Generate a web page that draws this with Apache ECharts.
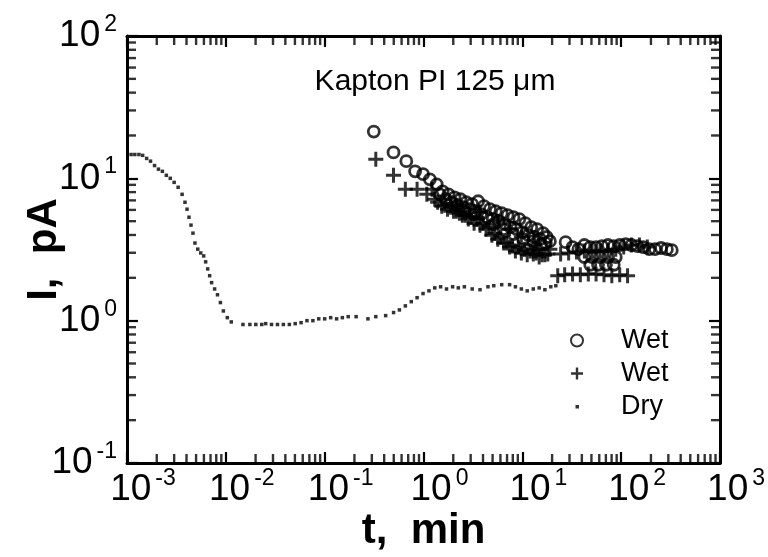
<!DOCTYPE html>
<html>
<head>
<meta charset="utf-8">
<script src="https://cdn.jsdelivr.net/npm/echarts@6/dist/echarts.min.js"></script>
<style>html,body{margin:0;padding:0;background:#fff}#c{width:768px;height:557px}</style>
</head>
<body>
<div id="c"></div>
<script>
// ---------- data (t in min, I in pA) ----------
const dryPoints = [
  [1.10e-3,14.7],[1.20e-3,14.7],[1.32e-3,14.7],[1.44e-3,14.5],[1.58e-3,13.8],[1.73e-3,13.2],[1.90e-3,12.3],
  [2.08e-3,11.6],[2.28e-3,11.2],[2.50e-3,10.5],[2.74e-3,10.0],[3.00e-3,9.37],[3.29e-3,8.65],[3.61e-3,7.72],
  [3.86e-3,6.79],[4.05e-3,6.07],[4.24e-3,5.33],[4.44e-3,4.69],[4.65e-3,4.12],[4.87e-3,3.51],[5.20e-3,3.18],
  [5.57e-3,2.99],[5.97e-3,2.85],[6.25e-3,2.59],[6.55e-3,2.31],[6.86e-3,2.07],[7.18e-3,1.85],[7.70e-3,1.67],
  [8.23e-3,1.52],[8.81e-3,1.34],[9.44e-3,1.17],[1.035e-2,1.05],[1.135e-2,0.98],
  [0.0149,0.94],[0.0175,0.94],[0.0201,0.94],[0.0231,0.94],[0.0253,0.953],[0.0290,0.94],[0.0333,0.94],
  [0.0382,0.94],[0.0439,0.94],[0.0503,0.953],[0.0577,0.968],[0.0662,1.0],[0.0760,1.0],[0.0871,1.03],
  [0.100,1.03],[0.115,1.05],[0.132,1.03],[0.151,1.05],[0.173,1.067],[0.208,1.067],[0.274,1.03],[0.329,1.067],
  [0.414,1.085],[0.498,1.14],[0.570,1.19],[0.655,1.27],[0.752,1.36],[0.861,1.45],[0.989,1.55],[1.135,1.62],
  [1.30,1.70],[1.49,1.73],[1.71,1.67],[1.97,1.73],[2.25,1.70],[2.59,1.73],[3.11,1.67],[3.73,1.65],
  [4.49,1.73],[5.14,1.76],[6.18,1.79],[7.43,1.79],[8.51,1.73],[9.77,1.67],[11.2,1.62],[12.9,1.67],
  [14.8,1.70],[16.9,1.65],[19.4,1.73],[21.8,1.76]
];
const wetCirclePoints = [
  [0.314,21.3],[0.497,15.2],[0.670,13.2],[0.822,11.2],[0.989,10.7],[1.16,9.84],[1.36,9.08],[1.56,8.11],
  [1.79,7.72],[2.06,7.36],[2.36,7.13],[2.71,6.79],[3.1,6.58],[3.57,6.90],[4.09,6.37],[4.70,6.07],
  [5.38,5.87],[6.18,5.69],[7.09,5.51],[8.13,5.33],[9.33,5.17],[10.7,4.84],[12.3,4.54],[14.1,4.40],
  [16.2,4.12],[17.7,3.87],[19.0,3.62],
  [2.59,5.87],[3.25,5.60],[5.14,4.77],[6.47,4.40],[8.13,4.06],[10.2,3.74],[12.9,3.62],[15.5,3.45],
  [1.46,7.72],[1.67,7.13],[1.92,6.79],[2.20,6.47],[2.53,6.27],[2.90,6.07],[3.33,5.87],[3.82,5.60],
  [4.39,5.33],[5.02,5.17],[5.77,5.0],[6.62,4.77],[7.60,4.54],[8.71,4.40],[10.0,4.19],[11.5,3.99],
  [13.2,3.87],[15.1,3.74],[17.3,3.51],
  [27.4,3.56],[32.2,3.29],[36.9,3.18],[42.4,3.40],[48.6,3.29],[55.7,3.29],[63.9,3.34],[73.5,3.40],
  [84.1,3.34],[96.6,3.40],[111,3.45],[127,3.40],[146,3.34],[167,3.29],[192,3.18],[220,3.18],
  [253,3.24],[290,3.18],[325,3.13],
  [42.4,2.80],[50.8,2.80],[61.1,2.80],[73.5,2.80],[88.1,2.80],[48.6,2.47],[58.3,2.47],[70.1,2.47],[84.1,2.47]
];
const wetPlusPoints = [
  [0.329,13.6],[0.497,10.5],[0.655,8.38],[0.861,8.38],[1.08,7.72],[1.22,8.38],[1.30,7.13],[1.53,6.37],
  [1.75,6.07],[2.01,5.87],[2.15,6.47],[2.31,5.69],[2.65,5.51],[3.04,5.33],[3.48,5.17],[3.73,5.78],
  [4.0,4.84],[4.59,4.54],[5.26,4.12],[5.64,5.0],[6.04,3.87],[6.93,3.51],[7.43,4.40],[7.95,3.34],
  [9.12,3.29],[9.77,3.87],[10.5,3.18],[12.0,3.09],[12.9,3.40],[13.8,2.99],[14.8,3.18],[15.8,2.90],
  [18.1,2.94],[19.0,3.18],
  [1.39,6.79],[1.64,6.47],[1.88,6.27],[2.15,5.87],[2.47,5.51],[2.84,5.17],[3.25,4.84],[3.73,4.69],
  [4.29,4.40],[4.92,3.99],[5.64,3.74],[6.47,3.51],[7.43,3.29],[8.51,3.09],[9.77,2.99],[11.2,2.90],
  [12.9,2.94],[14.8,2.80],[16.9,2.90],
  [24.4,2.94],[29.4,2.99],[35.3,3.04],[42.4,3.09],[50.8,3.09],[61.1,3.09],[73.5,3.09],[88.1,3.18],
  [106,3.29],[127,3.40],[153,3.40],[184,3.29],
  [22.8,2.07],[26.8,2.10],[32.2,2.13],[38.6,2.10],[46.5,2.13],[55.7,2.13],[67.0,2.10],[80.4,2.07],
  [96.6,2.10],[116,2.07]
];
const xTickExponents = ['-3','-2','-1','0','1','2','3'];
const yTickExponents = ['-1','0','1','2'];
const titleText = 'Kapton PI 125 μm';
const xName = 't,  min';
const yName = 'I,  pA';
const legendNames = ['Wet', 'Wet', 'Dry'];

// ---------- axis decoration: minor ticks at 2..9 × 10^k ----------
const X_MIN = 1e-3, X_MAX = 1e3, Y_MIN = 0.1, Y_MAX = 100;
const xMinorBottom = [], xMinorTop = [], yMinorLeft = [], yMinorRight = [];
for (let k = -3; k < 3; k++) for (let m = 2; m <= 9; m++) {
  const v = +(m * Math.pow(10, k)).toPrecision(3);
  xMinorBottom.push([v, Y_MIN]); xMinorTop.push([v, Y_MAX]);
}
for (let k = -1; k < 2; k++) for (let m = 2; m <= 9; m++) {
  const v = +(m * Math.pow(10, k)).toPrecision(3);
  yMinorLeft.push([X_MIN, v]); yMinorRight.push([X_MAX, v]);
}

const FONT = "'Liberation Sans', Arial, Helvetica, sans-serif";
const expOf = v => Math.round(Math.log10(v));
function fmtX(v) { const e = expOf(v); return '{b|10}{s|' + xTickExponents[e + 3] + '}'; }
function fmtY(v) { const e = expOf(v); return '{b|10}{s|' + yTickExponents[e + 1] + '}'; }
const rich = {
  b: { fontSize: 37, fontFamily: FONT, color: '#000', lineHeight: 46 },
  s: { fontSize: 23, fontFamily: FONT, color: '#000', verticalAlign: 'top', lineHeight: 23, padding: [0, 0, 0, 4] }
};
const plusPath = 'path://M-0.2,-1 L0.2,-1 L0.2,-0.2 L1,-0.2 L1,0.2 L0.2,0.2 L0.2,1 L-0.2,1 L-0.2,0.2 L-1,0.2 L-1,-0.2 L-0.2,-0.2 Z';
const dotIcon = 'image://data:image/svg+xml;charset=utf-8,' + encodeURIComponent('<svg xmlns="http://www.w3.org/2000/svg" width="12" height="12"><rect x="4.5" y="4.5" width="3.5" height="3.5" fill="#000"/></svg>');

const lineStyle = { color: '#000', width: 3 };
const nameStyle = { fontSize: 42, fontWeight: 'bold', fontFamily: FONT, color: '#000' };
function xAxisDef(pos, labels) {
  return {
    type: 'log', logBase: 10, min: X_MIN, max: X_MAX, position: pos, splitNumber: 6,
    axisLine: { show: true, onZero: false, lineStyle },
    axisTick: { show: true, inside: true, length: 11, lineStyle: { color: '#000', width: 2.2 } },
    splitLine: { show: false },
    axisLabel: labels ? { show: true, formatter: fmtX, rich, margin: 4, padding: [0, 0, 0, 32] } : { show: false },
    name: labels ? xName : '', nameLocation: 'middle', nameGap: 47, nameMoveOverlap: false,
    nameTextStyle: nameStyle
  };
}
function yAxisDef(pos, labels) {
  return {
    type: 'log', logBase: 10, min: Y_MIN, max: Y_MAX, position: pos, splitNumber: 3,
    axisLine: { show: true, onZero: false, lineStyle },
    axisTick: { show: true, inside: true, length: 11, lineStyle: { color: '#000', width: 2.2 } },
    splitLine: { show: false },
    axisLabel: labels ? { show: true, formatter: fmtY, rich, margin: 10 } : { show: false },
    name: labels ? yName : '', nameLocation: 'middle', nameGap: 62, nameRotate: 90, nameMoveOverlap: false,
    nameTextStyle: nameStyle
  };
}
// minor-tick marks: small bars anchored on the axis line, pointing inward
function tickSeries(data, size, offset) {
  return {
    type: 'scatter', data, symbol: 'rect', symbolSize: size, symbolOffset: offset,
    itemStyle: { color: '#000' }, clip: false, z: 5
  };
}

const chart = echarts.init(document.getElementById('c'), null, { renderer: 'canvas' });
chart.setOption({
  backgroundColor: '#fff',
  animation: false,
  title: {
    text: titleText, left: 430, top: 62, textAlign: 'center',
    textStyle: { fontSize: 30, fontWeight: 'normal', fontFamily: FONT, color: '#000' }
  },
  grid: { left: 127, right: 38, top: 36, bottom: 92, containLabel: false },
  xAxis: [xAxisDef('bottom', true), xAxisDef('top', false)],
  yAxis: [yAxisDef('left', true), yAxisDef('right', false)],
  legend: {
    orient: 'vertical', left: 533, top: 322, itemWidth: 78, itemHeight: 12, itemGap: 6,
    symbolKeepAspect: true, selectedMode: false,
    formatter: n => n === 'Dry' ? legendNames[2] : legendNames[0],
    textStyle: { fontSize: 27, fontFamily: FONT, color: '#000' },
    data: [
      { name: 'Wet (o)', icon: 'circle' },
      { name: 'Wet (+)', icon: plusPath },
      { name: 'Dry', icon: dotIcon }
    ]
  },
  series: [
    {
      type: 'scatter', name: 'Dry', data: dryPoints, symbol: 'rect', symbolSize: 3.5,
      itemStyle: { color: '#000' }, z: 3
    },
    {
      type: 'scatter', name: 'Wet (o)', data: wetCirclePoints, symbol: 'circle', symbolSize: 11,
      itemStyle: { color: 'rgba(0,0,0,0)', borderColor: '#000', borderWidth: 2.8 }, z: 4
    },
    {
      type: 'scatter', name: 'Wet (+)', data: wetPlusPoints, symbol: plusPath, symbolSize: 15,
      itemStyle: { color: '#000' }, z: 4
    },
    tickSeries(xMinorBottom, [2.4, 9], [0, -4.5]),
    tickSeries(xMinorTop, [2.4, 9], [0, 4.5]),
    tickSeries(yMinorLeft, [9, 2.4], [4.5, 0]),
    tickSeries(yMinorRight, [9, 2.4], [-4.5, 0])
  ]
});
</script>
</body>
</html>
